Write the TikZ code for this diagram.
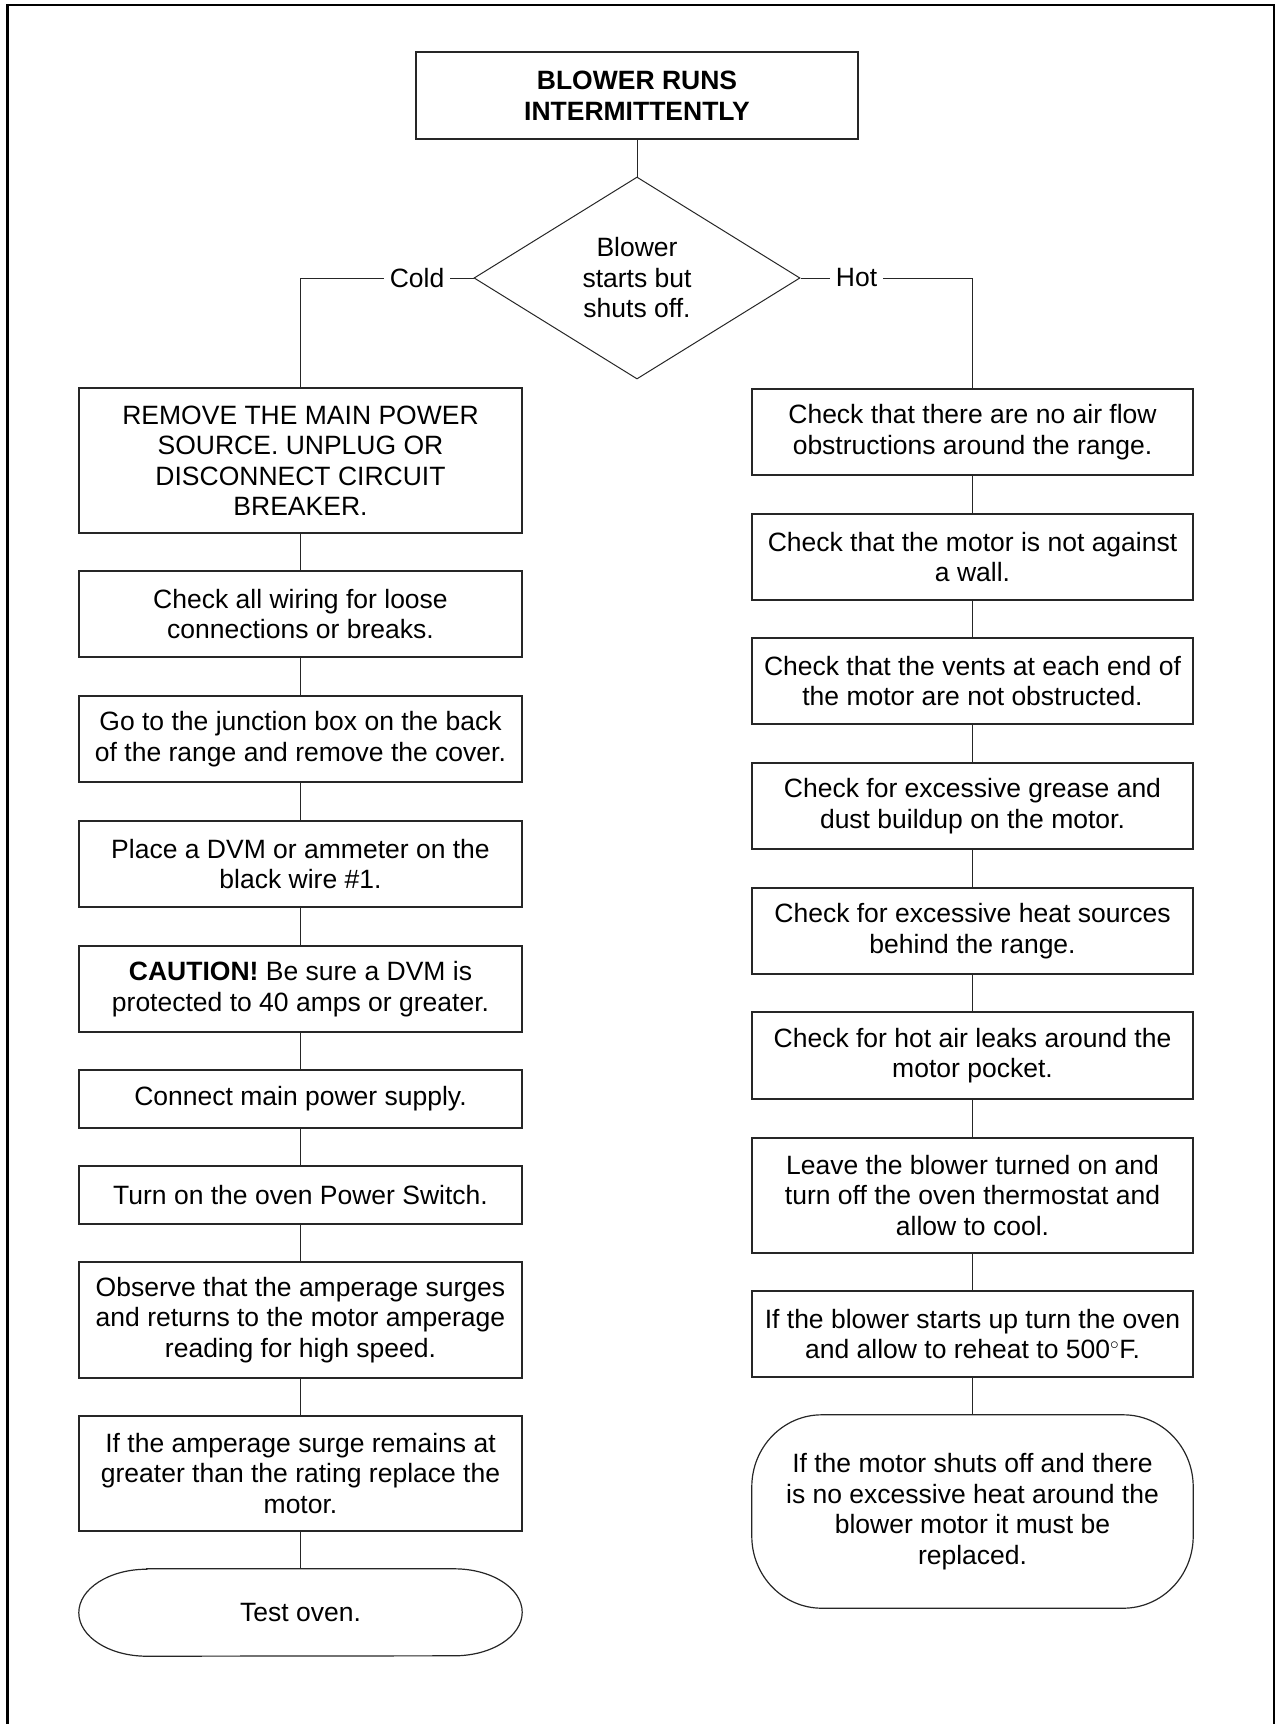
\documentclass[tikz,border=0pt]{standalone}
\usepackage{fontspec}
\setmainfont{Liberation Sans}
\usetikzlibrary{shapes.geometric}
\newcommand\fsz{\fontsize{26.5}{30.5}\selectfont}
\tikzset{
  box/.style={draw=black!85, line width=1.2pt, minimum width=443pt, align=center, inner sep=0pt, font=\fsz},
  rbox/.style={box, minimum width=441pt},
  term/.style={align=center, inner sep=0pt, font=\fsz},
  lbl/.style={inner sep=6pt, font=\fsz},
  conn/.style={draw=black!85, line width=1pt},
  termline/.style={draw=black!85, line width=1.2pt},
}
\begin{document}
\begin{tikzpicture}[x=1pt,y=-1pt]
\useasboundingbox (0,0) rectangle (1277,1724);
\draw[line width=2.6pt] (7.5,1740) -- (7.5,5) -- (1274,5) -- (1274,1740);

% title and decision
\node[box, minimum width=442pt, minimum height=87pt, font=\fsz\bfseries] (t) at (637,95.5) {BLOWER RUNS\\INTERMITTENTLY};
\node[diamond, draw=black!85, line width=1pt, minimum width=326pt, minimum height=202pt, aspect=1.6, inner sep=0pt, align=center, font=\fsz] (d) at (637,278) {Blower\\starts but\\shuts off.};
\node[lbl] (cold) at (417,278) {Cold};
\node[lbl] (hot) at (856.5,278) {Hot};

% left column
\node[box, minimum height=145pt] (l1) at (300.5,460.5) {REMOVE THE MAIN POWER\\SOURCE. UNPLUG OR\\DISCONNECT CIRCUIT\\BREAKER.};
\node[box, minimum height=86pt] (l2) at (300.5,614) {Check all wiring for loose\\connections or breaks.};
\node[box, minimum height=86pt] (l3) at (300.5,739) {Go to the junction box on the back\\of the range and remove the cover.};
\node[box, minimum height=86pt] (l4) at (300.5,864) {Place a DVM or ammeter on the\\black wire \#1.};
\node[box, minimum height=86pt] (l5) at (300.5,989) {\textbf{CAUTION!} Be sure a DVM is\\protected to 40 amps or greater.};
\node[box, minimum height=58pt] (l6) at (300.5,1099) {Connect main power supply.};
\node[box, minimum height=58pt] (l7) at (300.5,1195) {Turn on the oven Power Switch.};
\node[box, minimum height=116pt] (l8) at (300.5,1320) {Observe that the amperage surges\\and returns to the motor amperage\\reading for high speed.};
\node[box, minimum height=115pt] (l9) at (300.5,1473.5) {If the amperage surge remains at\\greater than the rating replace the\\motor.};
\node[term, minimum width=443pt, minimum height=87pt] (lt) at (300.5,1612.5) {Test oven.};
\draw[termline] ([xshift=68pt]lt.north west) -- ([xshift=-68pt]lt.north east)
  arc[start angle=90, end angle=-90, x radius=68pt, y radius=43.5pt]
  -- ([xshift=68pt]lt.south west)
  arc[start angle=270, end angle=90, x radius=68pt, y radius=43.5pt] -- cycle;

% right column
\node[rbox, minimum height=86pt] (r1) at (972.5,432) {Check that there are no air flow\\obstructions around the range.};
\node[rbox, minimum height=86pt] (r2) at (972.5,557) {Check that the motor is not against\\a wall.};
\node[rbox, minimum height=86pt] (r3) at (972.5,681) {Check that the vents at each end of\\the motor are not obstructed.};
\node[rbox, minimum height=86pt] (r4) at (972.5,806) {Check for excessive grease and\\dust buildup on the motor.};
\node[rbox, minimum height=86pt] (r5) at (972.5,931) {Check for excessive heat sources\\behind the range.};
\node[rbox, minimum height=87pt] (r6) at (972.5,1055.5) {Check for hot air leaks around the\\motor pocket.};
\node[rbox, minimum height=115pt] (r7) at (972.5,1195.5) {Leave the blower turned on and\\turn off the oven thermostat and\\allow to cool.};
\node[rbox, minimum height=86pt] (r8) at (972.5,1334) {If the blower starts up turn the oven\\and allow to reheat to 500$^{\circ}$F.};
\node[term, minimum width=441pt, minimum height=193pt] (rt) at (972.5,1511.5) {If the motor shuts off and there\\is no excessive heat around the\\blower motor it must be\\replaced.};
\draw[termline] ([xshift=70pt]rt.north west) -- ([xshift=-70pt]rt.north east)
  arc[start angle=90, end angle=0, x radius=70pt, y radius=72pt]
  -- ([yshift=72pt]rt.south east)
  arc[start angle=0, end angle=-90, x radius=70pt, y radius=72pt]
  -- ([xshift=70pt]rt.south west)
  arc[start angle=270, end angle=180, x radius=70pt, y radius=72pt]
  -- ([yshift=-72pt]rt.north west)
  arc[start angle=180, end angle=90, x radius=70pt, y radius=72pt] -- cycle;

% connectors
\draw[conn] (t) -- (d);
\draw[conn] (d.west) -- (cold.east);
\draw[conn] (cold.west) -| (l1.north);
\draw[conn] (d.east) -- (hot.west);
\draw[conn] (hot.east) -| (r1.north);
\foreach \a/\b in {l1/l2,l2/l3,l3/l4,l4/l5,l5/l6,l6/l7,l7/l8,l8/l9,l9/lt,
                   r1/r2,r2/r3,r3/r4,r4/r5,r5/r6,r6/r7,r7/r8,r8/rt}
  \draw[conn] (\a) -- (\b);
\end{tikzpicture}
\end{document}
